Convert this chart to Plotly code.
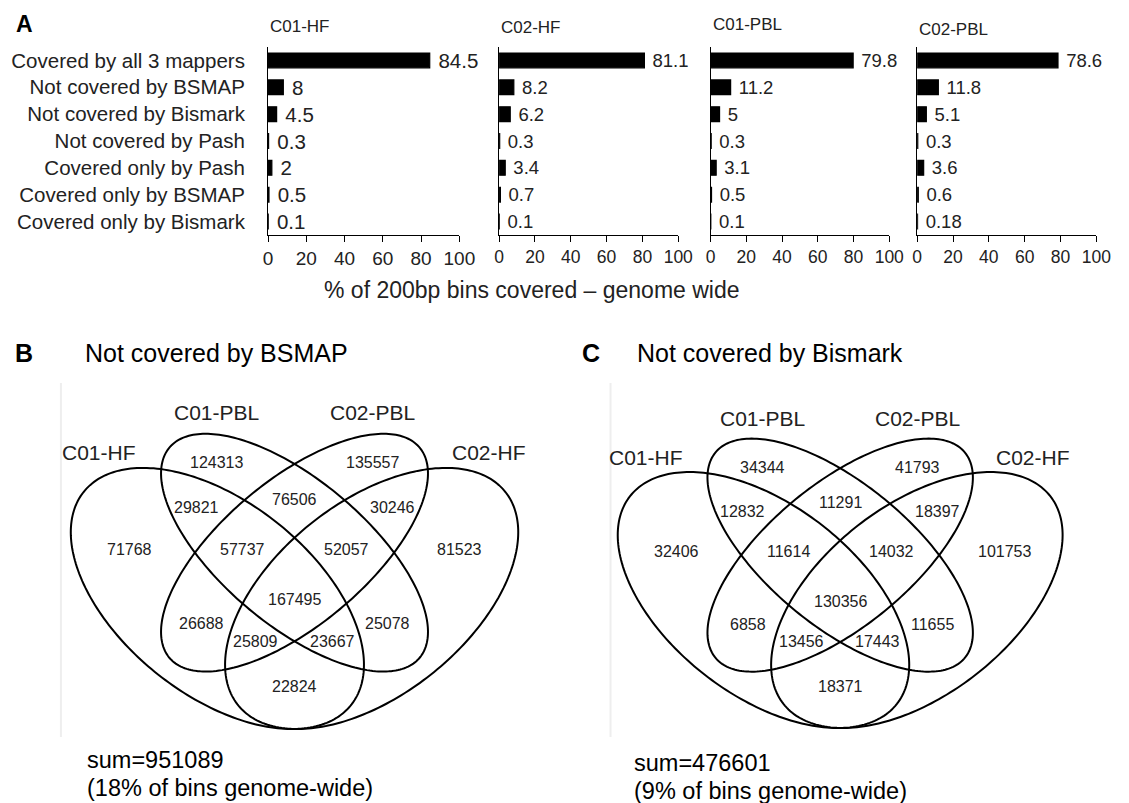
import numpy as np
import plotly.graph_objects as go

W, H = 1129, 803

# ---------------- data ----------------
categories = [
    "Covered by all 3 mappers",
    "Not covered by BSMAP",
    "Not covered by Bismark",
    "Not covered by Pash",
    "Covered only by Pash",
    "Covered only by BSMAP",
    "Covered only by Bismark",
]
panel_titles = ["C01-HF", "C02-HF", "C01-PBL", "C02-PBL"]
c01_hf = [84.5, 8, 4.5, 0.3, 2, 0.5, 0.1]
c02_hf = [81.1, 8.2, 6.2, 0.3, 3.4, 0.7, 0.1]
c01_pbl = [79.8, 11.2, 5, 0.3, 3.1, 0.5, 0.1]
c02_pbl = [78.6, 11.8, 5.1, 0.3, 3.6, 0.6, 0.18]
x_ticks = [0, 20, 40, 60, 80, 100]
x_title = "% of 200bp bins covered \u2013 genome wide"

venn_sets = ["C01-HF", "C01-PBL", "C02-PBL", "C02-HF"]
venn_regions = [
    "C01-PBL only", "C02-PBL only", "C01-HF&C01-PBL", "C01-PBL&C02-PBL",
    "C02-PBL&C02-HF", "C01-HF only", "C01-HF&C01-PBL&C02-PBL",
    "C01-PBL&C02-PBL&C02-HF", "C02-HF only", "all four", "C01-HF&C02-PBL",
    "C01-PBL&C02-HF", "C01-HF&C02-PBL&C02-HF", "C01-HF&C01-PBL&C02-HF",
    "C01-HF&C02-HF",
]
bsmap_counts = [124313, 135557, 29821, 76506, 30246, 71768, 57737, 52057,
                81523, 167495, 26688, 25078, 25809, 23667, 22824]
bismark_counts = [34344, 41793, 12832, 11291, 18397, 32406, 11614, 14032,
                  101753, 130356, 6858, 11655, 13456, 17443, 18371]
venn_titles = ["Not covered by BSMAP", "Not covered by Bismark"]
venn_letters = ["B", "C"]
venn_pct = ["18%", "9%"]

# ---------------- layout constants ----------------
BASE = "Liberation Sans, Arial, sans-serif"
TXT = "#222222"


def X(px):
    return px / W


def Y(py):
    return 1 - py / H


fig = go.Figure()

panels = [c01_hf, c02_hf, c01_pbl, c02_pbl]
x_doms = [(268, 463), (503.5, 686), (719, 901), (929.5, 1112)]
y_dom = (47, 235)
title_y = [26, 27, 24, 29]

for i, vals in enumerate(panels):
    ax = "" if i == 0 else str(i + 1)
    fig.add_trace(go.Bar(
        x=vals, y=categories, orientation="h",
        marker=dict(color="black", line=dict(color="black", width=1.2)),
        width=0.55,
        text=["\u00a0" + f"{v:g}" for v in vals],
        textposition="outside", cliponaxis=False, constraintext="none",
        outsidetextfont=dict(family=BASE, size=20.5 if i == 0 else 18.5, color=TXT),
        xaxis="x" + ax, yaxis="y" + ax, showlegend=False, hoverinfo="skip",
    ))
    fig.layout["xaxis" + ax] = dict(
        domain=[X(x_doms[i][0]), X(x_doms[i][1])], anchor="y" + ax,
        range=[0, 100], tickvals=x_ticks, ticks="outside", ticklen=6,
        tickcolor="black", showline=True, linecolor="black", linewidth=1,
        showgrid=False, zeroline=False, tickangle=0,
        tickfont=dict(family=BASE, size=19 if i == 0 else 17.5, color=TXT),
        fixedrange=True,
    )
    fig.layout["yaxis" + ax] = dict(
        domain=[Y(y_dom[1]), Y(y_dom[0])], anchor="x" + ax,
        type="category", categoryorder="array", categoryarray=categories,
        range=[6.5, -0.5], showline=True, linecolor="black", linewidth=1,
        ticks="", showgrid=False, zeroline=False,
        showticklabels=(i == 0), ticklabelstandoff=18,
        tickfont=dict(family=BASE, size=20.5, color=TXT), fixedrange=True,
    )
    fig.add_annotation(
        x=X(x_doms[i][0]), y=Y(title_y[i]), xref="paper", yref="paper",
        text=panel_titles[i], showarrow=False, xanchor="left", yanchor="middle",
        font=dict(family=BASE, size=17, color=TXT),
    )

fig.add_annotation(x=X(20), y=Y(24), xref="paper", yref="paper", text="<b>A</b>",
                   showarrow=False, xanchor="center", yanchor="middle",
                   font=dict(family=BASE, size=23, color="black"))
fig.add_annotation(x=X(537), y=Y(290), xref="paper", yref="paper", text=x_title,
                   showarrow=False, xanchor="center", yanchor="middle",
                   font=dict(family=BASE, size=23, color=TXT))

# ---------------- Venn diagrams ----------------
# ellipse geometry in unit square: (cx, cy, a, b, angle in degrees)
ellipses = {
    "C01-HF": (0.35, 0.47, 0.35, 0.20, 135),
    "C01-PBL": (0.50, 0.57, 0.335, 0.15, 135),
    "C02-PBL": (0.50, 0.57, 0.335, 0.15, 45),
    "C02-HF": (0.65, 0.47, 0.35, 0.20, 45),
}
set_label_pos = [(0.120, 0.788), (0.348, 0.875), (0.651, 0.875), (0.878, 0.788)]
region_pos = [
    (0.349, 0.766), (0.651, 0.766), (0.309, 0.668), (0.500, 0.687),
    (0.691, 0.668), (0.179, 0.578), (0.399, 0.578), (0.601, 0.578),
    (0.821, 0.578), (0.500, 0.467), (0.319, 0.416), (0.681, 0.416),
    (0.424, 0.377), (0.573, 0.377), (0.500, 0.277),
]
# pixel transforms: (center x, x scale, bottom y, y scale)
transforms = [(295, 524, 729, 458), (851, 521, 728, 449)]
header_x = [(19, 79), (597, 642)]
sum_x = [82, 639]
sum_y = [(760, 788), (763, 791)]
gray_x = [57, 617]

t = np.linspace(0, 2 * np.pi, 241)
for d, counts in enumerate([bsmap_counts, bismark_counts]):
    cx, sx, by, sy = transforms[d]

    def to_px(u, v):
        return cx + (u - 0.5) * sx, by - (v - 0.185) * sy

    # faint frame line
    fig.add_shape(type="line", xref="paper", yref="paper",
                  x0=X(gray_x[d]), x1=X(gray_x[d]), y0=Y(383), y1=Y(737),
                  line=dict(color="#eeeeee", width=2))
    for name in venn_sets:
        ecx, ecy, a, b, ang = ellipses[name]
        th = np.deg2rad(ang)
        u = ecx + a * np.cos(t) * np.cos(th) - b * np.sin(t) * np.sin(th)
        v = ecy + a * np.cos(t) * np.sin(th) + b * np.sin(t) * np.cos(th)
        px, py = to_px(u, v)
        path = "M " + " L ".join(f"{X(p):.5f},{Y(q):.5f}" for p, q in zip(px, py)) + " Z"
        fig.add_shape(type="path", path=path, xref="paper", yref="paper",
                      line=dict(color="black", width=2), fillcolor="rgba(0,0,0,0)")
    for name, (u, v) in zip(venn_sets, set_label_pos):
        px, py = to_px(u, v)
        fig.add_annotation(x=X(px), y=Y(py), xref="paper", yref="paper", text=name,
                           showarrow=False, xanchor="center", yanchor="middle",
                           font=dict(family=BASE, size=21, color=TXT))
    for cnt, (u, v) in zip(counts, region_pos):
        px, py = to_px(u, v)
        fig.add_annotation(x=X(px), y=Y(py), xref="paper", yref="paper", text=str(cnt),
                           showarrow=False, xanchor="center", yanchor="middle",
                           font=dict(family=BASE, size=16, color=TXT))
    lx, tx = header_x[d]
    fig.add_annotation(x=X(lx), y=Y(353), xref="paper", yref="paper",
                       text=f"<b>{venn_letters[d]}</b>", showarrow=False,
                       xanchor="center", yanchor="middle",
                       font=dict(family=BASE, size=25, color="black"))
    fig.add_annotation(x=X(tx), y=Y(353), xref="paper", yref="paper",
                       text=venn_titles[d], showarrow=False,
                       xanchor="left", yanchor="middle",
                       font=dict(family=BASE, size=25, color="black"))
    fig.add_annotation(x=X(sum_x[d]), y=Y(sum_y[d][0]), xref="paper", yref="paper",
                       text=f"sum={sum(counts)}", showarrow=False,
                       xanchor="left", yanchor="middle",
                       font=dict(family=BASE, size=23.5, color="black"))
    fig.add_annotation(x=X(sum_x[d]), y=Y(sum_y[d][1]), xref="paper", yref="paper",
                       text=f"({venn_pct[d]} of bins genome-wide)", showarrow=False,
                       xanchor="left", yanchor="middle",
                       font=dict(family=BASE, size=23.5, color="black"))

fig.update_layout(
    width=W, height=H, margin=dict(l=0, r=0, t=0, b=0, pad=0),
    paper_bgcolor="white", plot_bgcolor="white", showlegend=False,
    bargap=0.45,
)

fig.write_html("out.html", config={"displayModeBar": False},
               post_script="document.body.style.margin='0';document.body.style.overflow='hidden';")
